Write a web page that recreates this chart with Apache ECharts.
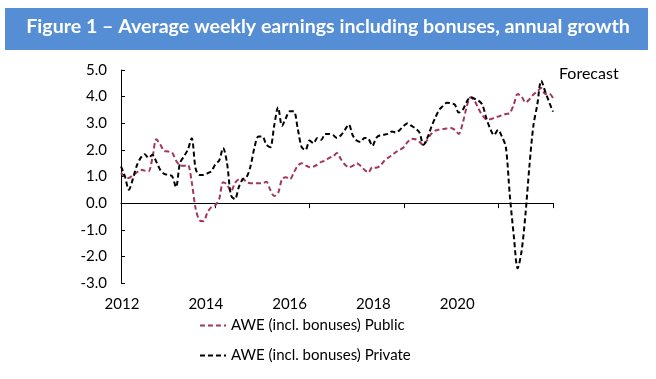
<!DOCTYPE html>
<html>
<head>
<meta charset="utf-8">
<script src="https://cdn.jsdelivr.net/npm/echarts@6/dist/echarts.min.js"></script>
<style>
html,body{margin:0;padding:0;background:#fff;}
#c{width:656px;height:379px;}
</style>
</head>
<body>
<div id="c"></div>
<script>
// Monthly observations, Jan 2012 (index 0) to Mar 2021 (index 110)
const monthIndex = Array.from({length: 111}, (_, i) => i);

const publicAWE = [
  1.13, 1.00, 0.94, 1.05, 1.15, 1.25, 1.22, 1.19, 1.70, 2.40, 2.20, 1.96,
  1.94, 1.90, 1.60, 1.42, 1.40, 1.44, 0.80, -0.20, -0.65, -0.68, -0.35, -0.15,
  -0.08, 0.15, 0.78, 0.70, 0.44, 0.75, 0.90, 0.92, 0.78, 0.75, 0.75, 0.75,
  0.75, 0.80, 0.50, 0.27, 0.38, 0.90, 0.97, 0.90, 1.15, 1.40, 1.50, 1.42,
  1.35, 1.37, 1.45, 1.55, 1.60, 1.70, 1.75, 1.88, 1.65, 1.45, 1.35, 1.40,
  1.50, 1.40, 1.25, 1.15, 1.35, 1.33, 1.40, 1.58, 1.70, 1.80, 1.92, 2.00,
  2.10, 2.30, 2.42, 2.40, 2.30, 2.18, 2.38, 2.60, 2.72, 2.76, 2.78, 2.80,
  2.82, 2.75, 2.60, 3.00, 3.60, 3.98, 3.85, 3.55, 3.30, 3.15, 3.15, 3.20,
  3.25, 3.30, 3.35, 3.38, 3.70, 4.10, 4.00, 3.78, 3.90, 4.08, 4.20, 4.32,
  4.10, 4.12, 3.95
];

const privateAWE = [
  1.38, 1.00, 0.50, 0.90, 1.40, 1.70, 1.84, 1.70, 1.82, 1.55, 1.25, 1.10,
  1.06, 1.02, 0.60, 1.50, 1.75, 2.00, 2.44, 1.30, 1.06, 1.06, 1.12, 1.20,
  1.45, 1.60, 2.07, 1.50, 0.30, 0.15, 0.60, 0.90, 0.98, 1.40, 2.10, 2.50,
  2.50, 2.20, 2.10, 2.90, 3.60, 2.90, 3.20, 3.45, 3.45, 2.80, 2.10, 2.00,
  2.35, 2.25, 2.45, 2.38, 2.60, 2.60, 2.55, 2.45, 2.55, 2.75, 2.95, 2.55,
  2.35, 2.30, 2.45, 2.42, 2.15, 2.45, 2.55, 2.57, 2.60, 2.69, 2.65, 2.75,
  2.90, 3.00, 2.90, 2.80, 2.65, 2.19, 2.45, 2.85, 3.20, 3.50, 3.65, 3.77,
  3.75, 3.70, 3.40, 3.50, 3.80, 3.98, 3.92, 3.85, 3.70, 3.20, 2.80, 2.55,
  2.75, 2.50, 2.10, 0.30, -1.20, -2.45, -1.80, -0.40, 1.40, 2.90, 3.70, 4.60,
  4.20, 3.80, 3.44
];

const yearLabels = [2012, 2014, 2016, 2018, 2020];
const forecastStart = 106.5;
const seriesNames = ['AWE (incl. bonuses) Public', 'AWE (incl. bonuses) Private'];
const titleText = 'Figure 1 \u2013 Average weekly earnings including bonuses, annual growth';

const FONT = 'Lato, "Liberation Sans", sans-serif';
const chart = echarts.init(document.getElementById('c'), null, {renderer: 'canvas'});

chart.setOption({
  animation: false,
  backgroundColor: '#ffffff',
  textStyle: {fontFamily: FONT},
  graphic: [
    {type: 'rect', left: 5, top: 8, shape: {width: 643, height: 42}, style: {fill: '#558ed5'}, z: 0},
    {type: 'text', left: 'center', top: 17, style: {text: titleText, fill: '#ffffff', font: 'bold 19.6px ' + FONT}, z: 1},
    {type: 'text', left: 559, top: 66, style: {text: 'Forecast', fill: '#000000', font: '16px ' + FONT}}
  ],
  grid: {left: 121, right: 103, top: 70, bottom: 96},
  legend: {
    orient: 'vertical', left: 199, top: 318, padding: 0, itemGap: 15, itemWidth: 26, itemHeight: 14,
    textStyle: {fontSize: 15, color: '#000', fontFamily: FONT},
    itemStyle: {opacity: 0},
    data: seriesNames
  },
  xAxis: [
    {
      type: 'value', min: 0, max: 110, interval: 24,
      axisLine: {onZero: true, lineStyle: {color: '#000', width: 1.2}},
      axisTick: {show: true, inside: false, length: 5, lineStyle: {color: '#000'}},
      axisLabel: {show: false},
      splitLine: {show: false}
    },
    {
      type: 'value', gridIndex: 0, position: 'bottom', min: 2011.976, max: 2022.286,
      axisLine: {show: false, onZero: false},
      axisTick: {show: false},
      splitLine: {show: false},
      axisLabel: {customValues: yearLabels, margin: 14, fontSize: 15, color: '#000', fontFamily: FONT,
                  formatter: v => String(v)}
    }
  ],
  yAxis: {
    type: 'value', min: -3, max: 5, interval: 1,
    axisLine: {show: true, lineStyle: {color: '#000', width: 1}},
    axisTick: {show: true, inside: true, length: 4, lineStyle: {color: '#000'}},
    axisLabel: {margin: 14, fontSize: 15, color: '#000', fontFamily: FONT, formatter: v => v.toFixed(1)},
    splitLine: {show: false}
  },
  series: [
    {
      name: seriesNames[0], type: 'line', xAxisIndex: 0, symbol: 'none', smooth: 0.3,
      data: monthIndex.map((m, i) => [m, publicAWE[i]]),
      lineStyle: {color: '#a3355f', width: 2, type: [5, 3]},
      itemStyle: {color: '#a3355f'}, z: 3
    },
    {
      name: seriesNames[1], type: 'line', xAxisIndex: 0, symbol: 'none', smooth: 0.3,
      data: monthIndex.map((m, i) => [m, privateAWE[i]]),
      lineStyle: {color: '#000000', width: 2, type: [5, 3]},
      itemStyle: {color: '#000000'}, z: 4,
      markLine: {
        silent: true, symbol: 'none', label: {show: false},
        lineStyle: {color: '#333', width: 1.5, type: 'solid'},
        data: [[{coord: [forecastStart, 5.27]}, {coord: [forecastStart, -3]}]]
      }
    }
  ]
});
</script>
</body>
</html>
